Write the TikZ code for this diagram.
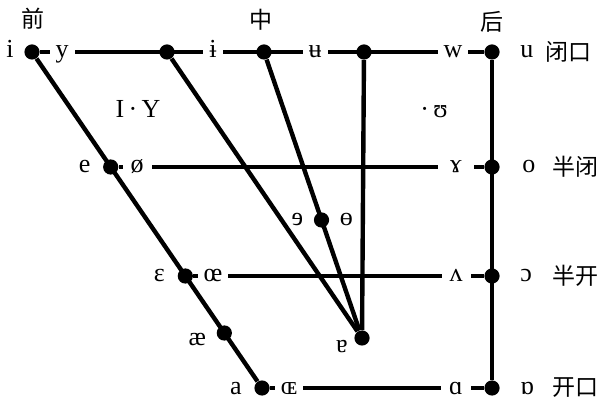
\documentclass[tikz,border=0pt]{standalone}
\usepackage{fontspec}
\setmainfont{Liberation Serif}
\newfontfamily\cjk{Noto Sans CJK SC}
\usetikzlibrary{positioning}

\begin{document}
\begin{tikzpicture}[x=0.5pt,y=-0.5pt,
    dot/.style={circle,fill=black,inner sep=0pt,minimum size=7.6pt},
    bar/.style={line width=2.2pt},
    sym/.style={font=\fontsize{13}{13}\selectfont,inner sep=0pt,text height=8.5pt,text depth=2.5pt},
    onl/.style={sym,fill=white,inner xsep=3pt,inner ysep=1pt},
    zh/.style={font=\cjk\fontsize{11.5}{11.5}\selectfont,inner sep=0pt}]
    \useasboundingbox (0,0) rectangle (599,400);

    % dots
    \node[dot] (i)  at (32,52) {};
    \node[dot] (t2) at (167,52) {};
    \node[dot] (t3) at (264,52) {};
    \node[dot] (t4) at (364,52) {};
    \node[dot] (u)  at (492,52) {};
    \node[dot] (e)  at (110.7,167) {};
    \node[dot] (o)  at (492,167) {};
    \node[dot] (sw) at (321.5,220) {};
    \node[dot] (eps) at (185.3,276) {};
    \node[dot] (oo) at (492,276) {};
    \node[dot] (ae) at (224.3,333) {};
    \node[dot] (tu) at (362,338) {};
    \node[dot] (a)  at (262,388) {};
    \node[dot] (al) at (492,388) {};

    % lines
    \draw[bar] (i) -- (u) -- (al);
    \draw[bar] (i) -- (a);
    \draw[bar] (t2) -- (tu);
    \draw[bar] (t3) -- (tu);
    \draw[bar] (t4) -- (tu);
    \draw[bar] (e) -- (o);
    \draw[bar] (eps) -- (oo);
    \draw[bar] (a) -- (al);

    % symbols on the lines
    \node[onl] (y)   at (62,52)  {y};
    \node[onl] (ib)  at (213,52) {ɨ};
    \node[onl] (ub)  at (315,52) {ʉ};
    \node[onl] (w)   at (453,52) {w};
    \node[onl,inner xsep=4pt] (oe)  at (137,167) {ø};
    \node[onl,inner xsep=6pt] (ram) at (456,167) {ɤ};
    \node[onl] (oe2) at (213,276) {œ};
    \node[onl,inner xsep=4pt] (vv) at (456,276) {ʌ};
    \node[onl] (OE)  at (289,388) {ɶ};
    \node[onl,inner xsep=4pt] (aa) at (456,388) {ɑ};

    % symbols beside the dots
    \node[sym,left=5pt of i] {i};
    \node[sym,left=6pt of e] {e};
    \node[sym,left=6pt of eps] {ɛ};
    \node[sym,left=5pt of ae,yshift=-3pt] {æ};
    \node[sym,left=6pt of a] {a};
    \node[sym,left=5pt of sw] {ɘ};
    \node[sym,right=5pt of sw] {ɵ};
    \node[sym,left=3pt of tu,yshift=-4pt] {ɐ};
    \node[sym,right=10pt of u] {u};
    \node[sym,right=11pt of o] {o};
    \node[sym,right=10pt of oo] {ɔ};
    \node[sym,right=10pt of al] {ɒ};
    \node[sym] (iy) at (138,112) {I\,·\,Y};
    \node[sym] (hu) at (434,112) {·\,ʊ};

    % headings
    \node[zh] (qian) at (33,19) {前};
    \node[zh] (zhong) at (261,20) {中};
    \node[zh] (hou) at (492,22) {后};
    \node[zh] (bikou) at (568,52) {闭口};
    \node[zh] (banbi) at (575,167) {半闭};
    \node[zh] (bankai) at (575,276) {半开};
    \node[zh] (kaikou) at (575,388) {开口};
\end{tikzpicture}
\end{document}
